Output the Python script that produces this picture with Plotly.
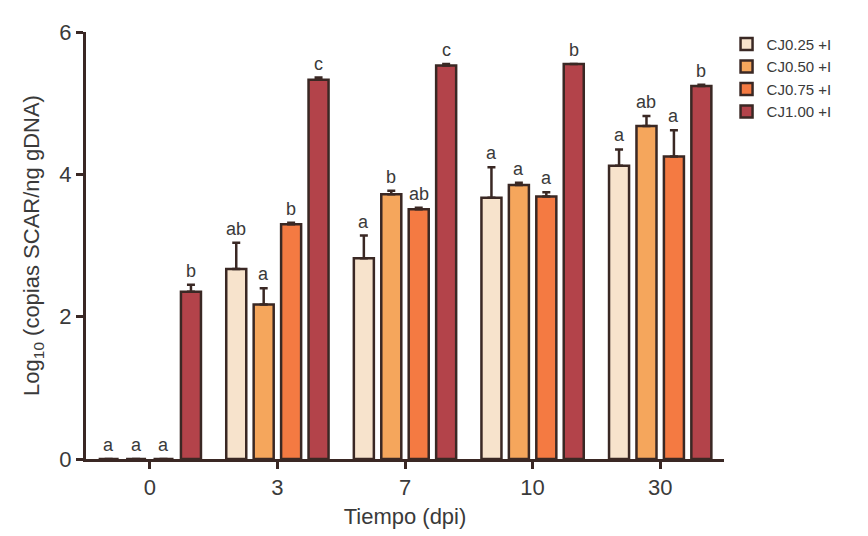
import plotly.graph_objects as go

categories = ["0", "3", "7", "10", "30"]
series = ["CJ0.25 +I", "CJ0.50 +I", "CJ0.75 +I", "CJ1.00 +I"]
values = {
    "CJ0.25 +I": [0.0, 2.67, 2.82, 3.67, 4.12],
    "CJ0.50 +I": [0.0, 2.17, 3.72, 3.85, 4.68],
    "CJ0.75 +I": [0.0, 3.30, 3.51, 3.69, 4.25],
    "CJ1.00 +I": [2.35, 5.33, 5.53, 5.55, 5.24],
}
errors = {
    "CJ0.25 +I": [0.0, 0.37, 0.32, 0.43, 0.23],
    "CJ0.50 +I": [0.0, 0.23, 0.05, 0.03, 0.14],
    "CJ0.75 +I": [0.0, 0.02, 0.02, 0.06, 0.37],
    "CJ1.00 +I": [0.10, 0.03, 0.02, 0.0, 0.02],
}
letters = {
    "CJ0.25 +I": ["a", "ab", "a", "a", "a"],
    "CJ0.50 +I": ["a", "a", "b", "a", "ab"],
    "CJ0.75 +I": ["a", "b", "ab", "a", "a"],
    "CJ1.00 +I": ["b", "c", "c", "b", "b"],
}
colors = ["#F7E3CC", "#F5A65C", "#F47A42", "#B3434A"]
outline = "#3A2824"

bargap = 0.14
xs = list(range(len(categories)))

fig = go.Figure()
for j, s in enumerate(series):
    fig.add_trace(go.Bar(
        name=s, x=xs, y=values[s],
        marker=dict(color=colors[j], line=dict(color=outline, width=2.5)),
        error_y=dict(type="data", array=errors[s], arrayminus=[0]*len(xs),
                     symmetric=False, color=outline, thickness=2.5, width=4),
    ))

slot = (1 - bargap) / len(series)
annotations = []
for j, s in enumerate(series):
    off = (j - (len(series) - 1) / 2) * slot
    for i in xs:
        annotations.append(dict(
            x=i + off, y=values[s][i] + errors[s][i], xref="x", yref="y",
            text=letters[s][i], showarrow=False, yanchor="bottom", yshift=2,
            font=dict(size=18, color="#3a3a3a")))

fig.update_layout(
    width=868, height=536,
    margin=dict(l=78, r=152, t=19, b=85),
    plot_bgcolor="white", paper_bgcolor="white",
    barmode="group", bargap=bargap, bargroupgap=0.27,
    font=dict(family="Arial, Liberation Sans, sans-serif", color="#3a3a3a"),
    showlegend=True,
    legend=dict(x=1.004, y=1.01, xanchor="left", yanchor="top",
                font=dict(size=15, color="#3a3a3a"), tracegroupgap=0,
                itemwidth=30),
    annotations=annotations,
    xaxis=dict(range=[-0.5, 4.5], tickmode="array", tickvals=xs, ticktext=categories,
               showline=True, linecolor=outline, linewidth=3, ticks="outside",
               ticklen=7, tickwidth=3, tickcolor=outline, showgrid=False, zeroline=False,
               tickfont=dict(size=22, color="#3a3a3a"),
               title=dict(text="Tiempo (dpi)", font=dict(size=22, color="#3a3a3a"), standoff=10)),
    yaxis=dict(range=[0, 6], tickvals=[0, 2, 4, 6], showline=True, linecolor=outline,
               linewidth=3, ticks="outside", ticklen=7, tickwidth=3, tickcolor=outline,
               showgrid=False, zeroline=False, tickfont=dict(size=22, color="#3a3a3a"),
               title=dict(text="Log<sub>10</sub> (copias SCAR/ng gDNA)",
                          font=dict(size=22, color="#3a3a3a"), standoff=14)),
)

fig.write_html("out.html")
